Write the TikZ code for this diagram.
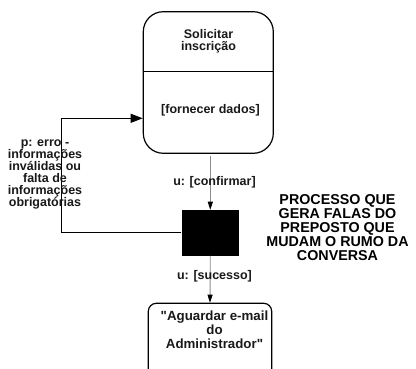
\documentclass[tikz,border=0pt]{standalone}
\usepackage{fontspec}
\setmainfont{Liberation Sans}
\newfontfamily\lib{Liberation Sans}
\usetikzlibrary{arrows.meta}
\begin{document}
\begin{tikzpicture}[x=1pt,y=-1pt,
  lbl/.style={font=\lib\fontsize{12.5}{12}\selectfont\bfseries, align=center, inner sep=0pt, text=black!90},
  lblb/.style={font=\lib\fontsize{13.3}{13.8}\selectfont\bfseries, align=center, inner sep=0pt, text=black!90},
  big/.style={font=\lib\fontsize{14.3}{14}\selectfont\bfseries, align=center, inner sep=0pt},
  statebox/.style={draw, line width=1.2pt, inner sep=0pt},
  flow/.style={draw=black!45, line width=0.9pt, -{Triangle[length=8pt,width=5pt,color=black]}},
  back/.style={draw=black, line width=1pt, -{Triangle[length=12pt,width=9pt]}}
]
\clip (0,0) rectangle (416,369);
\fill[white] (0,0) rectangle (416,369);

% top state
\node[statebox, rounded corners=20pt, minimum width=130pt, minimum height=141.6pt] (top) at (208.3,82.5) {};
\coordinate (divy) at (0,71.7);
\draw[line width=1pt] (top.west |- divy) -- (top.east |- divy);
\node[lbl] (title) at (208.5,41) {Solicitar\\inscrição};
\node[lbl] (act) at (210.5,110.5) {[fornecer dados]};

% black decision box
\node[fill=black, minimum width=57.3pt, minimum height=45.7pt, inner sep=0pt] (blk) at (210.3,232.8) {};

% bottom state
\node[statebox, rounded corners=8pt, minimum width=123.4pt, minimum height=90pt] (bot) at (210,348.3) {};
\node[lblb] (wait) at (214.5,330) {"Aguardar e-mail\\do\\Administrador"};

% connectors
\draw[flow, shorten <=2pt] (top.south -| blk) -- (blk.north);
\draw[flow] (blk.south) -- (bot.north);
\coordinate (lp) at (61.7,118.3);
\draw[back] (blk.west) -| (lp) -- (top.west |- lp);

% labels
\node[lbl] (conf) at (214.5,182.7) {u: [confirmar]};
\node[lbl] (suc) at (214.5,276.7) {u: [sucesso]};
\node[lbl] (err) at (45,174.5) {p: erro -\\informações\\inválidas ou\\falta de\\informações\\obrigatórias};
\node[big] (note) at (337.5,228) {PROCESSO QUE\\GERA FALAS DO\\PREPOSTO QUE\\MUDAM O RUMO DA\\CONVERSA};
\end{tikzpicture}
\end{document}
